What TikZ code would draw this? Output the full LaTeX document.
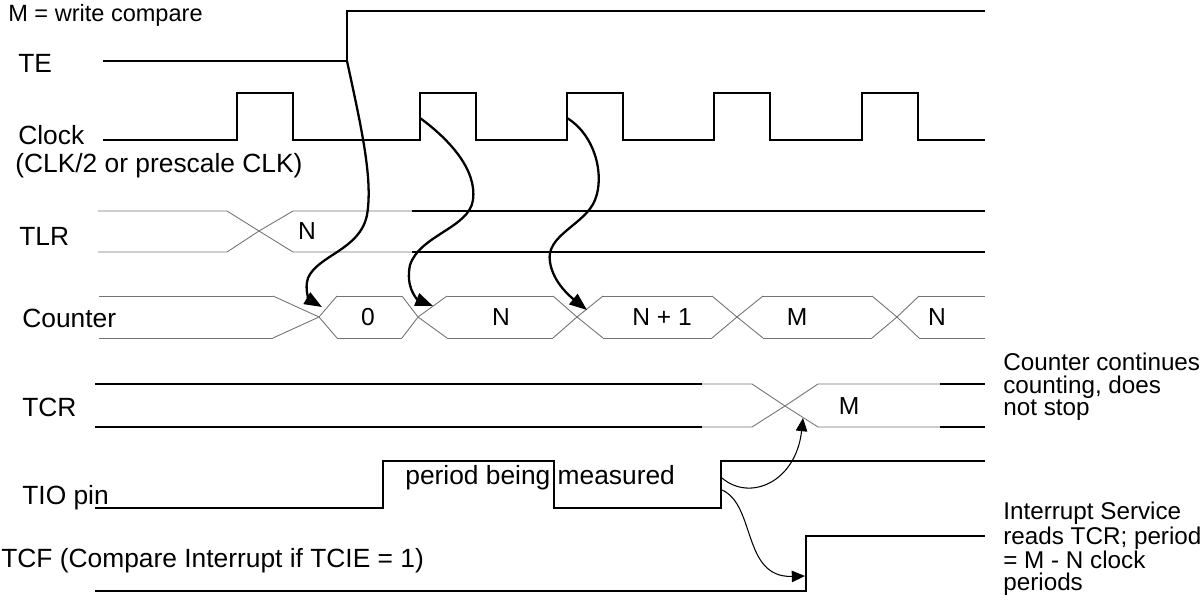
\documentclass[tikz,border=0pt]{standalone}
\usepackage{fontspec}
\setmainfont{Liberation Sans}
\usetikzlibrary{arrows.meta}

\begin{document}
\begin{tikzpicture}[x=0.02cm,y=-0.02cm,
  sig/.style={line width=1.6pt},
  bus/.style={line width=.5pt,black!55},
  cause/.style={line width=1.3pt,-{Triangle[length=10pt,width=7.5pt]}},
  causethin/.style={line width=.6pt,-{Triangle[length=7.5pt,width=6.5pt]}},
  lbl/.style={anchor=west,inner sep=0pt,font=\fontsize{15}{12}\selectfont},
  note/.style={anchor=north west,align=left,inner sep=0pt,font=\fontsize{13.8}{12.6}\selectfont},
  val/.style={inner sep=0pt,font=\fontsize{14}{12}\selectfont}]
\useasboundingbox (0,0) rectangle (1204,602);

% signal names
\node[lbl,font=\fontsize{13.4}{12}\selectfont] (mlbl) at (8,15) {M = write compare};
\node[lbl] (telbl) at (18,63) {TE};
\node[lbl] (clklbl) at (18,135) {Clock};
\node[lbl] (clksrc) at (15,166) {(CLK/2 or prescale CLK)};
\node[lbl] (tlrlbl) at (19,236) {TLR};
\node[lbl] (cntlbl) at (22,318) {Counter};
\node[lbl] (tcrlbl) at (22,407) {TCR};
\node[lbl] (tiolbl) at (22,498) {TIO pin};
\node[lbl] (tcflbl) at (1,561) {TCF (Compare Interrupt if TCIE = 1)};

% TE and clock
\coordinate (terise) at (347,61);
\draw[sig] (103,61) -- (terise) -- (347,11) -- (985,11);
\draw[sig] (103,140) foreach \p in {237,420,567,714,862} {-- (\p,140) -- (\p,93) -- (\p+56,93) -- (\p+56,140)} -- (985,140);
\coordinate (clkb) at (420,118); \coordinate (clkc) at (567,118);

% TLR
\draw[bus] (98,211) -- (227,211) -- (259,231) -- (293,252) -- (412,252);
\draw[bus] (98,252) -- (227,252) -- (259,231) -- (293,211) -- (412,211);
\draw[sig] (412,211) -- (985,211) (412,252) -- (985,252);
\node[val] (tlrn) at (307,231) {N};

% Counter
\foreach \a/\c/\b in {273/319/337,402/418/447,553/577/603,712/737/763,872/897/919}
  \draw[bus] (\a,296) -- (\c,317) -- (\b,338) (\a,338) -- (\c,317) -- (\b,296);
\foreach \a/\b in {99/273,337/402,447/553,603/712,763/872,919/985}
  \draw[bus] (\a,296) -- (\b,296) (\a,338) -- (\b,338);
\node[val] (cnt0) at (368,317) {0};
\node[val] (cntn) at (501,317) {N};
\node[val] (cntn1) at (662,317) {N + 1};
\node[val] (cntm) at (797,317) {M};
\node[val] (cntn2) at (937,317) {N};
\coordinate (tip0) at (322,307); \coordinate (tipn) at (433,306); \coordinate (tipn1) at (587,310);

% TCR
\draw[sig] (95,384) -- (702,384) (95,427) -- (702,427) (940,384) -- (985,384) (940,427) -- (985,427);
\draw[bus] (702,384) -- (752,384) -- (785,406) -- (818,427) -- (940,427);
\draw[bus] (702,427) -- (752,427) -- (785,406) -- (818,384) -- (940,384);
\node[val] (tcrm) at (849,406) {M};
\coordinate (tiptcr) at (803,418);

% TIO pin and TCF
\draw[sig] (95,508) -- (383,508) -- (383,461) -- (554,461) -- (554,508) -- (721,508) -- (721,461) -- (985,461);
\node[lbl] (meas) at (405,478) {period being measured};
\coordinate (tioa) at (722,478); \coordinate (tiob) at (722,490);
\draw[sig] (95,591) -- (806,591) -- (806,536) -- (985,536);
\coordinate (tiptcf) at (805,576);

% notes
\node[note] (cntnote) at (1003,353) {Counter continues\\counting, does\\not stop};
\node[note] (isrnote) at (1003,502) {Interrupt Service\\reads TCR; period\\= M - N clock\\periods};

% cause and effect
\draw[cause] (terise) .. controls (362,130) and (373,180) .. (367,215) .. controls (360,250) and (318,255) .. (308,278) .. controls (304,290) and (310,300) .. (tip0);
\draw[cause] (clkb) .. controls (450,140) and (477,170) .. (473,200) .. controls (469,228) and (420,235) .. (410,265) .. controls (405,288) and (418,300) .. (tipn);
\draw[cause] (clkc) .. controls (595,135) and (605,175) .. (595,200) .. controls (585,225) and (545,235) .. (550,262) .. controls (553,283) and (572,298) .. (tipn1);
\draw[causethin] (tioa) .. controls (750,502) and (796,482) .. (tiptcr);
\draw[causethin] (tiob) .. controls (756,505) and (742,578) .. (tiptcf);
\end{tikzpicture}
\end{document}
